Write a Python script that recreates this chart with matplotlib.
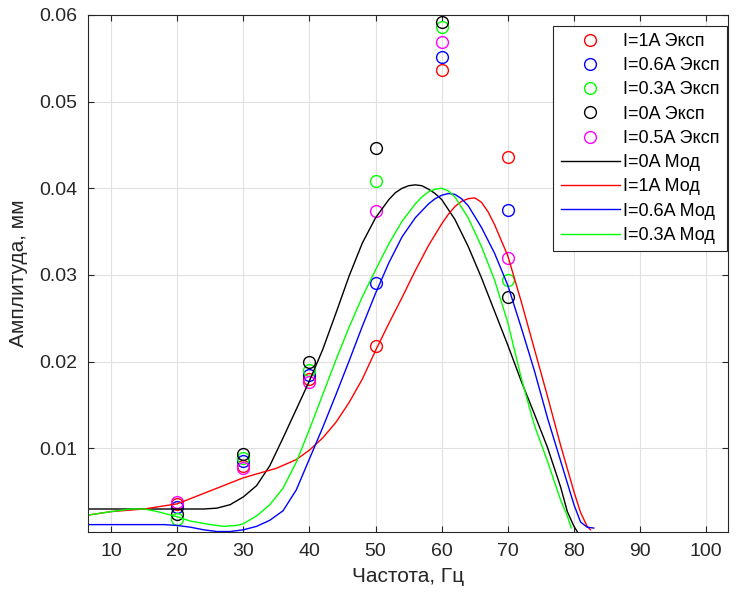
import matplotlib
matplotlib.use("Agg")
import matplotlib.pyplot as plt

plt.rcParams['font.family'] = ['Liberation Sans', 'DejaVu Sans']

# Experimental points
freq_exp = [20, 30, 40, 50, 60, 70]
exp_1A = [0.0036, 0.0080, 0.0180, 0.0218, 0.0536, 0.0436]
exp_06A = [0.0032, 0.0085, 0.0185, 0.0291, 0.0552, 0.0375]
exp_03A = [0.0019, 0.0089, 0.0190, 0.0408, 0.0586, 0.0294]
exp_0A = [0.0024, 0.0093, 0.0200, 0.0447, 0.0592, 0.0275]
exp_05A = [0.0038, 0.0077, 0.0177, 0.0374, 0.0569, 0.0320]

# Model curves
f_mod_0A = [6.5, 10, 15, 20, 24, 26, 28, 30, 32, 34, 36, 38, 40, 42, 44, 46, 48, 50,
            52, 53, 54, 55, 56, 57, 58, 59, 60, 62, 64, 66, 68, 70, 72, 74, 76, 78, 79, 80, 80.5]
mod_0A = [0.0030, 0.0030, 0.0030, 0.0030, 0.0030, 0.0031, 0.0035, 0.0044, 0.0057, 0.0080,
          0.0112, 0.0145, 0.0178, 0.0214, 0.0256, 0.0299, 0.0337, 0.0366, 0.0387, 0.0395,
          0.0400, 0.0403, 0.0404, 0.0403, 0.0399, 0.0394, 0.0387, 0.0364, 0.0333, 0.0297,
          0.0258, 0.0219, 0.0178, 0.0140, 0.0101, 0.0055, 0.0027, 0.0010, 0.0004]

f_mod_1A = [6.5, 10, 15, 20, 25, 30, 35, 38, 40, 42, 44, 46, 48, 50, 52, 54, 56, 58,
            60, 61, 62, 63, 64, 65, 66, 67, 68, 70, 72, 74, 76, 78, 80, 81, 82, 82.5]
mod_1A = [0.0023, 0.0027, 0.0030, 0.0036, 0.0051, 0.0066, 0.0077, 0.0087, 0.0098, 0.0112,
          0.0130, 0.0153, 0.0180, 0.0213, 0.0244, 0.0274, 0.0305, 0.0334, 0.0359, 0.0370,
          0.0379, 0.0385, 0.0388, 0.0389, 0.0384, 0.0373, 0.0358, 0.0322, 0.0270, 0.0215,
          0.0160, 0.0103, 0.0050, 0.0026, 0.0010, 0.0006]

f_mod_06A = [6.5, 10, 15, 18, 20, 22, 24, 26, 28, 30, 32, 34, 36, 38, 40, 42, 44, 46,
             48, 50, 52, 54, 56, 58, 59, 60, 61, 62, 63, 64, 66, 68, 70, 72, 74, 76, 78,
             80, 81, 82, 83]
mod_06A = [0.0012, 0.0012, 0.0012, 0.0012, 0.0011, 0.0009, 0.0006, 0.0004, 0.0004, 0.0006,
           0.0010, 0.0017, 0.0028, 0.0052, 0.0088, 0.0124, 0.0162, 0.0201, 0.0241, 0.0279,
           0.0314, 0.0344, 0.0366, 0.0382, 0.0388, 0.0392, 0.0394, 0.0393, 0.0388, 0.0380,
           0.0355, 0.0325, 0.0288, 0.0240, 0.0190, 0.0135, 0.0085, 0.0035, 0.0015, 0.0009,
           0.0008]

f_mod_03A = [6.5, 10, 13, 15, 17, 20, 22, 25, 27, 29, 30, 32, 34, 36, 38, 40, 42, 44, 46,
             48, 50, 52, 54, 56, 57, 58, 59, 60, 61, 62, 64, 66, 68, 70, 72, 74, 76, 78, 79,
             79.6]
mod_03A = [0.0023, 0.0027, 0.0030, 0.0030, 0.0027, 0.0021, 0.0016, 0.0012, 0.0010, 0.0011,
           0.0013, 0.0022, 0.0035, 0.0054, 0.0084, 0.0122, 0.0162, 0.0202, 0.0240, 0.0275,
           0.0306, 0.0336, 0.0362, 0.0382, 0.0390, 0.0396, 0.0399, 0.0400, 0.0397, 0.0390,
           0.0366, 0.0333, 0.0294, 0.0245, 0.0182, 0.0127, 0.0085, 0.0040, 0.0022, 0.0008]

xticks = [10, 20, 30, 40, 50, 60, 70, 80, 90, 100]
yticks = [0.01, 0.02, 0.03, 0.04, 0.05, 0.06]

fig = plt.figure(figsize=(7.39, 5.99), dpi=100)
ax = fig.add_axes([0.1191, 0.1119, 0.8660, 0.8631])

mk = dict(linestyle='none', marker='o', markersize=8.5, markerfacecolor='none', markeredgewidth=1.0)
ax.plot(freq_exp, exp_1A, color=(1, 0, 0), label='I=1A Эксп', **mk)
ax.plot(freq_exp, exp_06A, color=(0, 0, 1), label='I=0.6A Эксп', **mk)
ax.plot(freq_exp, exp_03A, color=(0, 1, 0), label='I=0.3A Эксп', **mk)
ax.plot(freq_exp, exp_0A, color=(0, 0, 0), label='I=0A Эксп', **mk)
ax.plot(freq_exp, exp_05A, color=(1, 0, 1), label='I=0.5A Эксп', **mk)

ax.plot(f_mod_0A, mod_0A, color=(0, 0, 0), lw=1.0, label='I=0A Мод')
ax.plot(f_mod_1A, mod_1A, color=(1, 0, 0), lw=1.0, label='I=1A Мод')
ax.plot(f_mod_06A, mod_06A, color=(0, 0, 1), lw=1.0, label='I=0.6A Мод')
ax.plot(f_mod_03A, mod_03A, color=(0, 1, 0), lw=1.0, label='I=0.3A Мод')

ax.set_xlim(6.5, 103.3)
ax.set_ylim(0.00035, 0.06)
ax.set_xticks(xticks)
ax.set_xticklabels([str(t) for t in xticks])
ax.set_yticks(yticks)
ax.set_yticklabels(['0.01', '0.02', '0.03', '0.04', '0.05', '0.06'])
ax.grid(True, color='#e0e0e0', linewidth=0.8)
ax.set_axisbelow(True)
ax.tick_params(direction='in', length=4, width=0.8, top=True, right=True,
               labelsize=14, colors='#262626', pad=8)
for s in ax.spines.values():
    s.set_color('#262626')
    s.set_linewidth(0.8)

ax.set_xlabel('Частота, Гц', fontsize=15, color='#262626', labelpad=5)
ax.set_ylabel('Амплитуда, мм', fontsize=15, color='#262626', labelpad=8)

leg = ax.legend(loc='upper right', bbox_to_anchor=(0.998, 0.979), borderaxespad=0,
                fancybox=False, edgecolor='#262626', framealpha=1, fontsize=13,
                handlelength=3.3, labelspacing=0.4, handletextpad=0.15, borderpad=0.4)
leg.get_frame().set_linewidth(0.8)

fig.savefig('out.png', dpi=100)
